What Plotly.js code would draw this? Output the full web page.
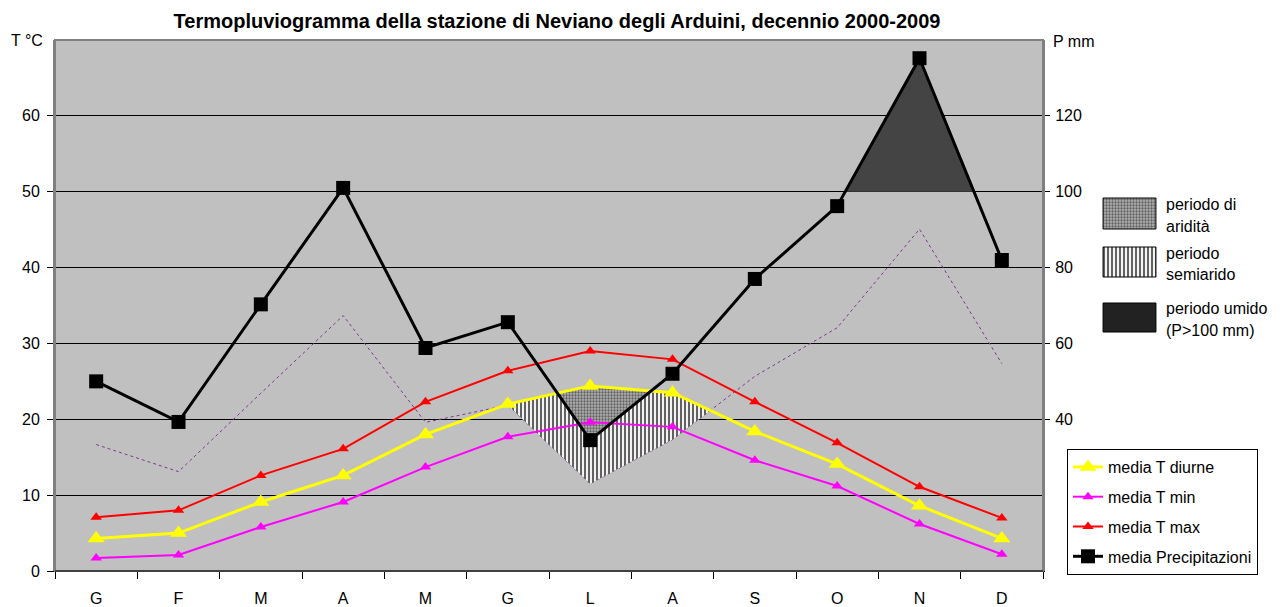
<!DOCTYPE html>
<html>
<head>
<meta charset="utf-8">
<script src="https://cdn.plot.ly/plotly-3.0.1.min.js"></script>
<style>html,body{margin:0;padding:0;background:#fff;}#chart{width:1284px;height:607px;}</style>
</head>
<body>
<div id="chart"></div>
<script>
// ---- data ----
const months = ['G','F','M','A','M','G','L','A','S','O','N','D'];
const tDiurne = [4.3, 5.0, 9.1, 12.6, 18.0, 22.0, 24.4, 23.5, 18.4, 14.1, 8.6, 4.3];
const tMin    = [1.7, 2.1, 5.8, 9.1, 13.7, 17.7, 19.6, 19.0, 14.6, 11.2, 6.2, 2.2];
const tMax    = [7.1, 8.0, 12.6, 16.1, 22.3, 26.4, 29.0, 27.9, 22.3, 16.9, 11.1, 7.0];
const precip  = [50.0, 39.3, 70.3, 101.0, 58.8, 65.6, 34.5, 52.0, 77.0, 96.2, 135.2, 82.0];
const humidThreshold = 100;
const leftTicks = [0, 10, 20, 30, 40, 50, 60];
const rightTicks = [40, 60, 80, 100, 120];
const legendLines = ['media T diurne','media T min','media T max','media Precipitazioni'];
const legendFills = [['periodo di','aridità'],['periodo','semiarido'],['periodo umido','(P>100 mm)']];

const idx = months.map((_, i) => i);
const pHalf = precip.map(p => p / 2);   // P on the temperature scale (P = 2T)
const pThird = precip.map(p => p / 3);  // P = 3T line (semi-arid limit)

// polygons where top > bottom, computed from the series
function regionAbove(top, bot) {
  const xs = [], ys = [];
  let seg = null;
  const n = top.length;
  const flush = () => {
    if (!seg) return;
    const px = seg.x.concat(seg.x.slice().reverse());
    const py = seg.t.concat(seg.b.slice().reverse());
    if (xs.length) { xs.push(null); ys.push(null); }
    xs.push(...px, px[0]); ys.push(...py, py[0]);
    seg = null;
  };
  for (let i = 0; i < n; i++) {
    const d = top[i] - bot[i];
    if (d > 0) {
      if (!seg) seg = {x: [], t: [], b: []};
      seg.x.push(i); seg.t.push(top[i]); seg.b.push(bot[i]);
    }
    if (i < n - 1) {
      const dn = top[i + 1] - bot[i + 1];
      if ((d > 0) !== (dn > 0)) {
        const f = d / (d - dn);
        const xc = i + f;
        const yc = top[i] + f * (top[i + 1] - top[i]);
        if (d > 0) { seg.x.push(xc); seg.t.push(yc); seg.b.push(yc); flush(); }
        else { seg = {x: [xc], t: [yc], b: [yc]}; }
      }
    }
  }
  flush();
  return {x: xs, y: ys};
}

const semi = regionAbove(tDiurne, pThird);
const arid = regionAbove(tDiurne, pHalf);
const humid = regionAbove(precip, precip.map(() => humidThreshold));

const font = 'Liberation Sans, Arial, sans-serif';
const FS = 16;
const semiPattern = {shape: '|', bgcolor: '#f2f2f2', fgcolor: '#000000', size: 4, solidity: 0.3};
const aridPattern = {shape: '.', bgcolor: '#b0b0b0', fgcolor: '#606060', size: 3, solidity: 0.45};

const traces = [
  {x: idx, y: pThird, mode: 'lines', line: {color: '#7a3c8a', width: 1, dash: 'dot'}, showlegend: false, hoverinfo: 'skip'},
  {x: semi.x, y: semi.y, mode: 'lines', fill: 'toself', fillcolor: '#f2f2f2', fillpattern: semiPattern, line: {width: 0}, showlegend: false, hoverinfo: 'skip'},
  {x: arid.x, y: arid.y, mode: 'lines', fill: 'toself', fillcolor: '#b0b0b0', fillpattern: aridPattern, line: {width: 0}, showlegend: false, hoverinfo: 'skip'},
  {x: humid.x, y: humid.y, yaxis: 'y2', mode: 'lines', fill: 'toself', fillcolor: '#444444', line: {width: 0}, showlegend: false, hoverinfo: 'skip'},
  {x: idx, y: tMax, name: legendLines[2], legendgroup: 'c', legendrank: 3, mode: 'lines+markers', line: {color: '#ff0000', width: 2}, marker: {symbol: 'triangle-up', size: 10, color: '#ff0000'}},
  {x: idx, y: tMin, name: legendLines[1], legendgroup: 'b', legendrank: 2, mode: 'lines+markers', line: {color: '#ff00ff', width: 2}, marker: {symbol: 'triangle-up', size: 10, color: '#ff00ff'}},
  {x: idx, y: tDiurne, name: legendLines[0], legendgroup: 'a', legendrank: 1, mode: 'lines+markers', line: {color: '#ffff00', width: 3}, marker: {symbol: 'triangle-up', size: 15, color: '#ffff00'}},
  {x: idx, y: precip, yaxis: 'y2', name: legendLines[3], legendgroup: 'd', legendrank: 4, mode: 'lines+markers', line: {color: '#000000', width: 3}, marker: {symbol: 'square', size: 14, color: '#000000'}}
];

// swatches for the area legend (drawn on an auxiliary axis in the right margin)
const swatchRows = [[198, 229], [247, 277], [303, 332]];
const swatchStyles = [
  {fillcolor: '#b0b0b0', fillpattern: aridPattern},
  {fillcolor: '#f2f2f2', fillpattern: semiPattern},
  {fillcolor: '#222222'}
];
swatchRows.forEach((r, k) => {
  traces.push(Object.assign({
    x: [0, 1, 1, 0, 0], y: [r[0], r[0], r[1], r[1], r[0]], xaxis: 'x2', yaxis: 'y3',
    mode: 'lines', fill: 'toself', line: {color: '#000000', width: 1}, showlegend: false, hoverinfo: 'skip'
  }, swatchStyles[k]));
});

const W = 1284, L = 55, plotR = 1043, T = 40, B = 571;
const fullW = W - L;
const px2x = p => (p - L) / fullW;
const py2y = p => (B - p) / (B - T);
const swTop = 192, swBot = 338;

const annotations = [
  {text: 'T °C', xref: 'paper', yref: 'paper', x: px2x(45), y: py2y(40), xanchor: 'right', yanchor: 'middle', showarrow: false, font: {family: font, size: FS, color: '#000'}},
  {text: 'P mm', xref: 'paper', yref: 'paper', x: px2x(1051), y: py2y(41), xanchor: 'left', yanchor: 'middle', showarrow: false, font: {family: font, size: FS, color: '#000'}}
];
const textLines = [[204, 226], [253, 274], [308, 330]];
legendFills.forEach((lines, k) => {
  lines.forEach((t, j) => {
    annotations.push({text: t, xref: 'paper', yref: 'y3', x: px2x(1164), y: textLines[k][j], xanchor: 'left', yanchor: 'middle', showarrow: false, font: {family: font, size: FS, color: '#000'}});
  });
});

const layout = {
  width: 1284, height: 607,
  margin: {l: L, r: 0, t: T, b: 607 - B},
  paper_bgcolor: '#ffffff', plot_bgcolor: '#c0c0c0',
  font: {family: font, size: FS, color: '#000'},
  title: {text: '<b>Termopluviogramma della stazione di Neviano degli Arduini, decennio 2000-2009</b>', x: px2x(557), xref: 'paper', xanchor: 'center', y: 1 - 21 / 607, yanchor: 'middle', font: {family: font, size: 20, color: '#000'}},
  xaxis: {
    domain: [0, px2x(plotR)], range: [-0.5, 11.5], tickmode: 'array', tickvals: idx, ticktext: months,
    ticks: '', showgrid: false, zeroline: false, showline: true, linecolor: '#000', linewidth: 1,
    ticklabelstandoff: 13, tickfont: {family: font, size: FS},
    minor: {tickmode: 'linear', tick0: -0.5, dtick: 1, ticks: 'outside', ticklen: 7, tickcolor: '#000', tickwidth: 1, showgrid: false}
  },
  yaxis: {
    range: [0, 70], tickmode: 'array', tickvals: leftTicks, showgrid: true, gridcolor: '#000', gridwidth: 1,
    zeroline: false, showline: true, linecolor: '#808080', linewidth: 2, ticks: 'outside', ticklen: 6, tickcolor: '#000',
    tickfont: {family: font, size: FS}, ticklabelstandoff: 4
  },
  yaxis2: {
    range: [0, 140], overlaying: 'y', side: 'right', anchor: 'x', tickmode: 'array', tickvals: rightTicks,
    showgrid: false, zeroline: false, showline: true, linecolor: '#808080', linewidth: 2, ticks: 'outside', ticklen: 5, tickcolor: '#000',
    tickfont: {family: font, size: FS}, ticklabelstandoff: 2
  },
  xaxis2: {domain: [px2x(1102), px2x(1157)], range: [-0.02, 1.02], visible: false, anchor: 'y3', fixedrange: true},
  yaxis3: {domain: [py2y(swBot), py2y(swTop)], range: [swBot, swTop], visible: false, anchor: 'x2', fixedrange: true},
  shapes: [
    {type: 'rect', xref: 'x2 domain', yref: 'y3 domain', x0: 0, x1: 1, y0: 0, y1: 1, fillcolor: '#ffffff', line: {width: 0}, layer: 'below'},
    {type: 'rect', xref: 'x domain', yref: 'y domain', x0: 0, x1: 1, y0: 0, y1: 1, line: {color: '#808080', width: 2}, layer: 'above'},
    {type: 'line', xref: 'x domain', yref: 'y domain', x0: 0, x1: 1, y0: 0, y1: 0, line: {color: '#000', width: 1}, layer: 'above'}
  ],
  showlegend: true,
  legend: {
    x: px2x(1067), xanchor: 'left', y: py2y(575), yanchor: 'bottom', xref: 'paper', yref: 'paper',
    bgcolor: '#ffffff', bordercolor: '#000', borderwidth: 1, traceorder: 'grouped', tracegroupgap: 6,
    font: {family: font, size: FS, color: '#000'}, itemwidth: 30
  },
  annotations: annotations
};

Plotly.newPlot('chart', traces, layout, {displayModeBar: false, staticPlot: true});
</script>
</body>
</html>
